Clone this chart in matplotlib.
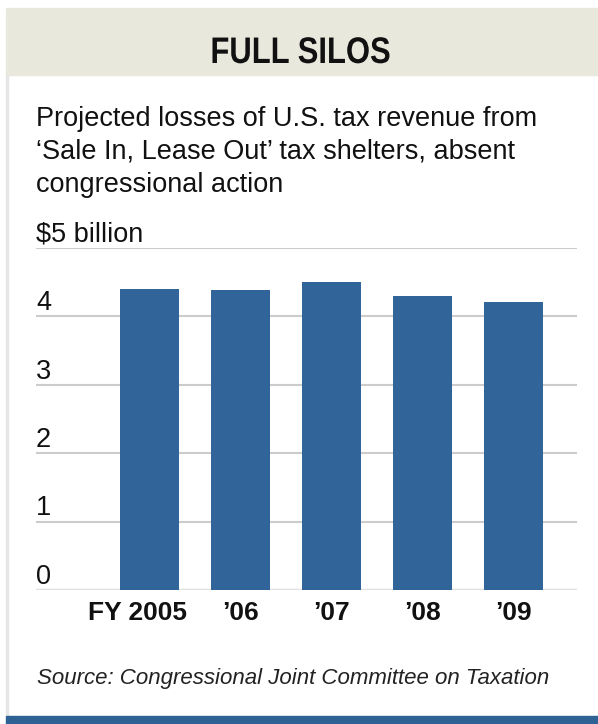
import matplotlib.pyplot as plt
from matplotlib.patches import Rectangle, PathPatch
from matplotlib.textpath import TextPath
from matplotlib.font_manager import FontProperties
from matplotlib.transforms import Affine2D, IdentityTransform

years = ["FY 2005", "\u201906", "\u201907", "\u201908", "\u201909"]
losses = [4.4, 4.39, 4.5, 4.3, 4.21]
yticks = [0, 1, 2, 3, 4, 5]
ytick_labels = ["0", "1", "2", "3", "4", "$5 billion"]
subtitle = ["Projected losses of U.S. tax revenue from",
            "\u2018Sale In, Lease Out\u2019 tax shelters, absent",
            "congressional action"]

W, H = 598, 724
fig = plt.figure(figsize=(W / 100, H / 100), dpi=100)
plt.rcParams["font.family"] = ["Liberation Sans", "DejaVu Sans"]

# header band
fig.patches.append(Rectangle((6 / W, 1 - 75 / H), 1, 67 / H, transform=fig.transFigure,
                             color="#e8e8dc", zorder=0))
# left border line
fig.patches.append(Rectangle((6 / W, 8 / H), 1.5 / W, 1 - 83 / H, transform=fig.transFigure,
                             color="#e6e6e6", zorder=0))
# bottom blue rule
fig.patches.append(Rectangle((6 / W, 0), 1, 8 / H, transform=fig.transFigure,
                             color="#2f6294", zorder=0))

# condensed bold title, drawn as a squeezed text path (pixel units)
tp = TextPath((0, 0), "FULL SILOS", size=37,
              prop=FontProperties(family="Liberation Sans", weight="bold"))
ext = tp.get_extents()
sx = 177 / ext.width
tr = Affine2D().translate(-ext.x0 - ext.width / 2, 0).scale(sx, 1).translate(301, H - 63)
fig.patches.append(PathPatch(tp, transform=tr + IdentityTransform(), color="#111111", lw=0))

for k, line in enumerate(subtitle):
    fig.text(36 / W, 1 - (126 + 33 * k) / H, line, ha="left", va="baseline",
             fontsize=19.5, color="#111111")

x0, x1 = 36, 577
y0, y5 = 590, 248
ax = fig.add_axes([x0 / W, 1 - y0 / H, (x1 - x0) / W, (y0 - y5) / H])
ax.set_xlim(-1.247, 4.70)
ax.set_ylim(0, 5)
ax.axis("off")

for t, lab in zip(yticks, ytick_labels):
    ax.axhline(t, color="#e0e0e0" if t == 0 else "#cccccc", lw=2.5 if t == 0 else 1.5, zorder=1)
    ax.text(-1.247, t + 0.09, lab, ha="left", va="baseline", fontsize=19.5, color="#111111")

ax.bar(range(len(years)), losses, width=0.65, color="#31659a", zorder=2)
for i, lab in enumerate(years):
    if i == 0:
        ax.text(0.41, -0.44, lab, ha="right", va="baseline", fontsize=19,
                fontweight="bold", color="#111111")
    else:
        ax.text(i, -0.44, lab, ha="center", va="baseline", fontsize=19,
                fontweight="bold", color="#111111")

fig.text(37 / W, 1 - 684 / H, "Source: Congressional Joint Committee on Taxation",
         ha="left", va="baseline", fontsize=16, style="italic", color="#222222")

fig.savefig("out.png", dpi=100)
